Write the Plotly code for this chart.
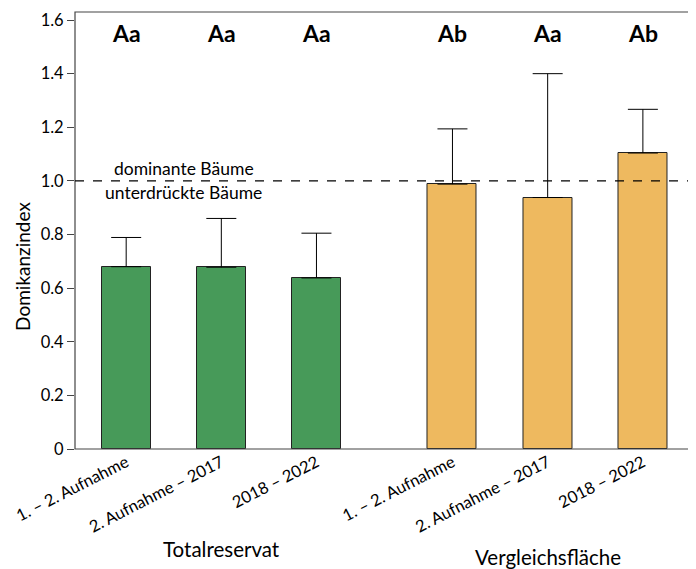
import plotly.graph_objects as go

# Perioden (gleich für beide Flächen)
PERIODS = ["1. – 2. Aufnahme", "2. Aufnahme – 2017", "2018 – 2022"]
GROUPS = ["Totalreservat", "Vergleichsfläche"]

# Mittelwerte und obere Fehlerbalken
TOTAL_MEAN = [0.680, 0.678, 0.638]
TOTAL_ERR = [0.109, 0.182, 0.167]
VERGL_MEAN = [0.988, 0.938, 1.104]
VERGL_ERR = [0.206, 0.462, 0.163]

# Signifikanzbuchstaben
TOTAL_LETTERS = ["Aa", "Aa", "Aa"]
VERGL_LETTERS = ["Ab", "Aa", "Ab"]

Y_TICKS = [0, 0.2, 0.4, 0.6, 0.8, 1.0, 1.2, 1.4, 1.6]
Y_TICKTEXT = ["0", "0.2", "0.4", "0.6", "0.8", "1.0", "1.2", "1.4", "1.6"]

GREEN = "#479a59"
ORANGE = "#eeb95f"
FONT = "Lato"
SPLIT = 0.5016


def bar(means, errs, color, xaxis):
    return go.Bar(
        x=PERIODS,
        y=means,
        width=0.515,
        marker=dict(color=color, line=dict(color="#222", width=1)),
        error_y=dict(
            type="data", array=errs, symmetric=False, arrayminus=[0] * len(errs),
            color="black", thickness=1, width=15,
        ),
        xaxis=xaxis,
        yaxis="y",
        showlegend=False,
    )


fig = go.Figure()
fig.add_trace(bar(TOTAL_MEAN, TOTAL_ERR, GREEN, "x"))
fig.add_trace(bar(VERGL_MEAN, VERGL_ERR, ORANGE, "x2"))

xcommon = dict(
    type="category",
    categoryorder="array",
    categoryarray=PERIODS,
    tickangle=-27,
    ticks="",
    showline=False,
    showgrid=False,
    zeroline=False,
    tickfont=dict(size=16.5, color="black"),
    anchor="y",
)

# page body adds ~8px offset, so the figure is a bit smaller than the window
fig.update_layout(
    width=688,
    height=561,
    margin=dict(l=67, r=4, t=4, b=120, autoexpand=False),
    plot_bgcolor="white",
    paper_bgcolor="white",
    font=dict(family=FONT, color="black"),
    bargap=0,
    xaxis=dict(domain=[0, SPLIT], range=[-0.538, 2.715], **xcommon),
    xaxis2=dict(domain=[SPLIT, 1], range=[-0.714, 2.516], **xcommon),
    yaxis=dict(
        range=[0, 1.63],
        tickvals=Y_TICKS,
        ticktext=Y_TICKTEXT,
        ticks="outside",
        ticklen=7,
        tickcolor="#444",
        showgrid=False,
        zeroline=False,
        showline=False,
        tickfont=dict(size=16.5, color="black"),
    ),
)

# Rahmen
fig.add_shape(type="rect", xref="paper", yref="paper", x0=0, x1=1, y0=0, y1=1,
              line=dict(color="#444", width=1.2))
# Grenze dominant / unterdrückt
fig.add_shape(type="line", xref="paper", yref="y", x0=0, x1=1, y0=1.0, y1=1.0,
              line=dict(color="black", width=1.2, dash="dash"))

fig.add_annotation(x=0.607, y=1.046, xref="x", yref="y", text="dominante Bäume",
                   showarrow=False, font=dict(size=17.5))
fig.add_annotation(x=0.607, y=0.957, xref="x", yref="y", text="unterdrückte Bäume",
                   showarrow=False, font=dict(size=17.5))

for letters, xr in [(TOTAL_LETTERS, "x"), (VERGL_LETTERS, "x2")]:
    for p, t in zip(PERIODS, letters):
        fig.add_annotation(x=p, y=1.55, xref=xr, yref="y", text=f"<b>{t}</b>",
                           showarrow=False, font=dict(size=23))

fig.add_annotation(x=1, y=-0.229, xref="x", yref="paper", text=GROUPS[0],
                   yanchor="middle", showarrow=False, font=dict(size=20.5))
fig.add_annotation(x=1, y=-0.247, xref="x2", yref="paper", text=GROUPS[1],
                   yanchor="middle", showarrow=False, font=dict(size=20.5))

fig.add_annotation(x=-0.0843, y=0.419, xref="paper", yref="paper", text="Domikanzindex",
                   textangle=-90, xanchor="center", yanchor="middle",
                   showarrow=False, font=dict(size=19))

fig.write_html("out.html")
